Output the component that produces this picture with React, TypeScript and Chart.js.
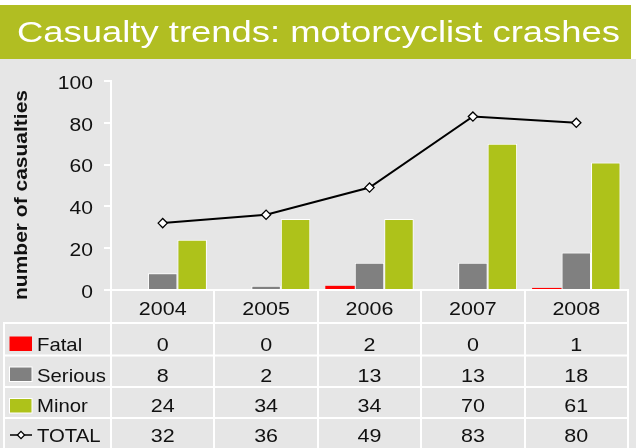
import React, { useEffect, useRef } from 'react';
import { Chart, registerables } from 'chart.js';

Chart.register(...registerables);

// ---------- data ----------
const years = ['2004', '2005', '2006', '2007', '2008'];
const fatal = [0, 0, 2, 0, 1];
const serious = [8, 2, 13, 13, 18];
const minor = [24, 34, 34, 70, 61];
const total = [32, 36, 49, 83, 80];
const yTicks = [0, 20, 40, 60, 80, 100];
const seriesNames = ['Fatal', 'Serious', 'Minor', 'TOTAL'];
const titleText = 'Casualty trends: motorcyclist crashes';
const yTitleText = 'number of casualties';

// ---------- style ----------
const FONT = '"Liberation Sans", Arial, sans-serif';
const C_FATAL = '#ff0000';
const C_SERIOUS = '#808080';
const C_MINOR = '#aec21a';
const C_TITLE = '#b1be22';
const C_BG = '#e6e6e6';
const C_TEXT = '#111111';

function drawText(
  ctx: CanvasRenderingContext2D,
  s: string,
  x: number,
  y: number,
  align: 'left' | 'center' | 'right',
  font: string,
  sx: number,
  color: string
) {
  ctx.save();
  ctx.font = font;
  ctx.fillStyle = color;
  ctx.textAlign = 'left';
  ctx.textBaseline = 'alphabetic';
  const w = ctx.measureText(s).width * sx;
  const left = align === 'center' ? x - w / 2 : align === 'right' ? x - w : x;
  ctx.translate(left, y);
  ctx.scale(sx, 1);
  ctx.fillText(s, 0, 0);
  ctx.restore();
}

function diamond(ctx: CanvasRenderingContext2D, x: number, y: number, r: number) {
  ctx.beginPath();
  ctx.moveTo(x, y - r);
  ctx.lineTo(x + r, y);
  ctx.lineTo(x, y + r);
  ctx.lineTo(x - r, y);
  ctx.closePath();
  ctx.fillStyle = '#ffffff';
  ctx.fill();
  ctx.strokeStyle = '#000000';
  ctx.lineWidth = 1.3;
  ctx.stroke();
}

const decor = {
  id: 'decor',
  beforeDraw(chart: any) {
    const ctx: CanvasRenderingContext2D = chart.ctx;
    const W = chart.width;
    const H = chart.height;
    ctx.save();
    ctx.fillStyle = '#ffffff';
    ctx.fillRect(0, 0, W, H);
    ctx.fillStyle = C_BG;
    ctx.fillRect(0, 59, W, H - 59);
    ctx.fillStyle = C_TITLE;
    ctx.fillRect(0, 5, 631, 54);
    // title, stretched to its width in the reference
    ctx.font = `29px ${FONT}`;
    const tw = ctx.measureText(titleText).width;
    drawText(ctx, titleText, 17, 42, 'left', `29px ${FONT}`, 603 / tw, '#ffffff');
    ctx.restore();
  },
  afterDraw(chart: any) {
    const ctx: CanvasRenderingContext2D = chart.ctx;
    const xs = chart.scales.x;
    const ys = chart.scales.y;
    const area = chart.chartArea;
    const H = chart.height;
    ctx.save();

    // table grid lines
    const rowLines = [323, 355.5, 387, 418];
    ctx.strokeStyle = '#ffffff';
    ctx.lineWidth = 2;
    ctx.beginPath();
    rowLines.forEach((ly) => {
      ctx.moveTo(4, ly);
      ctx.lineTo(area.right + 1, ly);
    });
    ctx.moveTo(4, rowLines[0] - 1);
    ctx.lineTo(4, H);
    ctx.stroke();

    // header years
    years.forEach((yr, i) => {
      const cx = xs.getPixelForValue(i);
      drawText(ctx, yr, cx, 315, 'center', `19px ${FONT}`, 1.13, C_TEXT);
    });

    // rows
    const rowBase = [351, 382.3, 412.3, 441.7];
    const rows = [fatal, serious, minor, total];
    rows.forEach((arr, r) => {
      arr.forEach((v, i) => {
        const cx = xs.getPixelForValue(i);
        drawText(ctx, String(v), cx, rowBase[r], 'center', `19px ${FONT}`, 1.13, C_TEXT);
      });
      drawText(ctx, seriesNames[r], 37, rowBase[r], 'left', `19px ${FONT}`, 1.07, C_TEXT);
    });

    // legend keys
    const swatch = (color: string, top: number, border: boolean) => {
      ctx.fillStyle = color;
      ctx.fillRect(9.5, top, 22.5, 14.5);
      if (border) {
        ctx.strokeStyle = '#ffffff';
        ctx.lineWidth = 1;
        ctx.strokeRect(9.5, top, 22.5, 14.5);
      }
    };
    swatch(C_FATAL, 336.5, false);
    swatch(C_SERIOUS, 367, true);
    swatch(C_MINOR, 398.5, true);
    ctx.strokeStyle = '#000000';
    ctx.lineWidth = 1.5;
    ctx.beginPath();
    ctx.moveTo(10, 435);
    ctx.lineTo(32, 435);
    ctx.stroke();
    diamond(ctx, 21, 435, 3.6);

    // y tick labels
    yTicks.forEach((v) => {
      const py = ys.getPixelForValue(v);
      drawText(ctx, String(v), 93, py + 7.8, 'right', `18px ${FONT}`, 1.17, C_TEXT);
    });

    // y title
    ctx.save();
    ctx.translate(26.5, 195);
    ctx.rotate(-Math.PI / 2);
    ctx.font = `bold 18px ${FONT}`;
    const yw = ctx.measureText(yTitleText).width;
    drawText(ctx, yTitleText, 0, 0, 'center', `bold 18px ${FONT}`, 210 / yw, C_TEXT);
    ctx.restore();

    ctx.restore();
  },
};

export default function App() {
  const ref = useRef<HTMLCanvasElement>(null);
  useEffect(() => {
    document.body.style.margin = '0';
    const canvas = ref.current!;
    const chart = new Chart(canvas, {
      type: 'bar',
      data: {
        labels: years,
        datasets: [
          {
            type: 'line',
            label: seriesNames[3],
            data: total,
            borderColor: '#000000',
            borderWidth: 2,
            pointStyle: 'rectRot',
            pointRadius: 4.6,
            pointBackgroundColor: '#ffffff',
            pointBorderColor: '#000000',
            pointBorderWidth: 1.3,
            tension: 0,
            order: 0,
          } as any,
          {
            type: 'bar',
            label: seriesNames[0],
            data: fatal,
            backgroundColor: C_FATAL,
            borderWidth: 0,
            order: 1,
          },
          {
            type: 'bar',
            label: seriesNames[1],
            data: serious,
            backgroundColor: C_SERIOUS,
            borderColor: '#ffffff',
            borderWidth: { top: 1, left: 1, right: 1, bottom: 0 },
            borderSkipped: 'bottom',
            order: 1,
          } as any,
          {
            type: 'bar',
            label: seriesNames[2],
            data: minor,
            backgroundColor: C_MINOR,
            borderColor: '#ffffff',
            borderWidth: { top: 1, left: 1, right: 1, bottom: 0 },
            borderSkipped: 'bottom',
            order: 1,
          } as any,
        ],
      },
      options: {
        responsive: false,
        maintainAspectRatio: false,
        devicePixelRatio: 1,
        animation: false,
        layout: { padding: { top: 81, right: 8, left: 0, bottom: 0 } },
        datasets: { bar: { categoryPercentage: 0.855, barPercentage: 1 } },
        plugins: {
          legend: { display: false },
          tooltip: { enabled: false },
          title: { display: false },
        },
        scales: {
          x: {
            type: 'category',
            offset: true,
            grid: {
              offset: true,
              drawOnChartArea: false,
              drawTicks: true,
              tickLength: 158,
              color: '#ffffff',
              lineWidth: 2,
            },
            border: { display: true, color: '#ffffff', width: 2 },
            ticks: { display: false },
            afterFit: (s: any) => {
              s.height = 158;
            },
          },
          y: {
            min: 0,
            max: 100,
            ticks: { stepSize: 20, display: false },
            grid: {
              drawOnChartArea: false,
              drawTicks: true,
              tickLength: 7,
              color: '#ffffff',
              lineWidth: 2,
            },
            border: { display: true, color: '#ffffff', width: 2 },
            afterFit: (s: any) => {
              s.width = 111;
            },
          },
        },
      } as any,
      plugins: [decor],
    });
    return () => chart.destroy();
  }, []);
  return (
    <div style={{ width: 636, height: 448 }}>
      <canvas ref={ref} width={636} height={448} style={{ display: 'block', width: 636, height: 448 }} />
    </div>
  );
}
